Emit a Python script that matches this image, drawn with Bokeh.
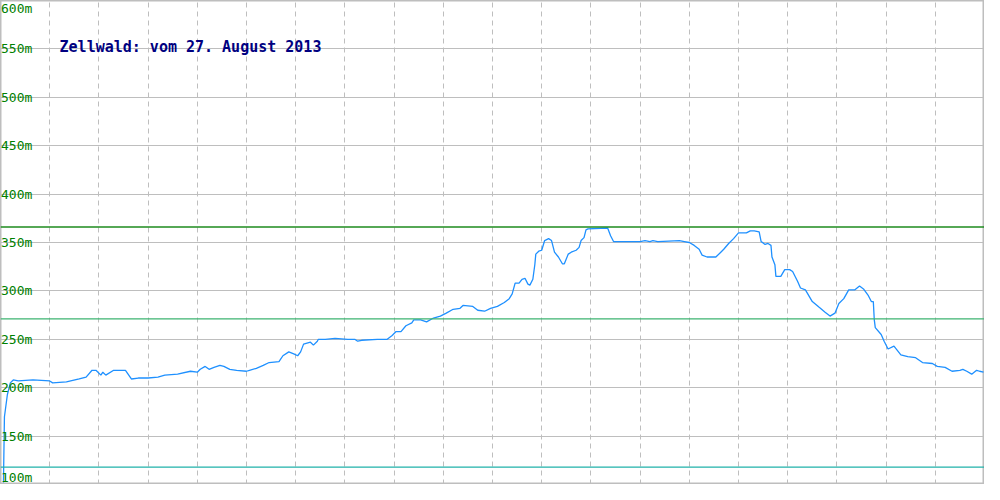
from bokeh.plotting import figure
from bokeh.models import Span, Grid, FixedTicker
from bokeh.core.properties import value
from bokeh.embed import file_html
from bokeh.resources import INLINE

title_text = "Zellwald: vom 27. August 2013"

dist = [3, 4, 7, 10, 13, 18, 33, 50, 53, 67, 80, 87, 93, 97, 102, 104, 107, 115, 127, 133,
        140, 150, 160, 167, 180, 193, 200, 203, 208, 212, 217, 223, 227, 233, 240, 250, 253, 260, 267, 273,
        283, 287, 293, 298, 302, 305, 308, 315, 318, 322, 323, 330, 340, 353, 360, 363, 367, 383, 393, 398,
        402, 407, 412, 418, 420, 427, 433, 440, 447, 453, 460, 467, 470, 480, 485, 492, 498, 505, 512, 517,
        520, 523, 527, 530, 533, 536, 538, 541, 543, 544, 547, 550, 553, 557, 560, 563, 567, 571, 573, 577,
        580, 585, 588, 590, 593, 595, 597, 617, 620, 623, 650, 655, 660, 663, 668, 690, 695, 700, 705, 710,
        713, 718, 727, 732, 735, 740, 745, 750, 758, 762, 766, 771, 773, 777, 780, 783, 784, 787, 788, 793,
        797, 802, 805, 810, 813, 818, 825, 832, 838, 843, 848, 852, 857, 862, 868, 873, 877, 882, 885, 887,
        888, 889, 895, 898, 902, 908, 915, 922, 930, 937, 947, 952, 960, 967, 975, 978, 982, 987, 992, 995, 999]

elev = [102, 170, 193, 205, 208, 207, 208, 207, 205, 206, 209, 211, 218, 218, 213, 216, 213, 218, 218, 209,
        210, 210, 211, 213, 214, 217, 216, 219, 222, 219, 221, 223, 222, 219, 218, 217, 218, 220, 223, 226,
        227, 233, 237, 235, 233, 237, 245, 247, 244, 248, 250, 250, 251, 250, 250, 248, 249, 250, 250, 254,
        258, 258, 264, 267, 270, 270, 268, 272, 274, 277, 281, 282, 285, 284, 280, 279, 282, 284, 288, 292,
        297, 308, 308, 312, 313, 307, 306, 312, 327, 338, 341, 342, 352, 354, 352, 340, 335, 328, 328, 338,
        340, 342, 345, 352, 355, 363, 364, 365, 357, 351, 351, 352, 351, 352, 351, 352, 351, 350, 347, 343,
        337, 335, 335, 340, 343, 349, 354, 360, 360, 362, 362, 361, 351, 348, 349, 347, 335, 327, 315, 315,
        322, 322, 320, 310, 303, 301, 289, 283, 278, 274, 277, 287, 292, 301, 301, 305, 302, 295, 289, 289,
        270, 262, 255, 248, 240, 243, 234, 232, 231, 226, 225, 222, 221, 217, 218, 219, 217, 214, 218, 217, 216]

ref_levels = [366, 271, 118]
ref_colors = ["#1E8B1E", "#3CB371", "#20B2AA"]

y_ticks = [100, 150, 200, 250, 300, 350, 400, 450, 500, 550, 600]
y_labels = ["100m", "150m", "200m", "250m", "300m", "350m", "400m", "450m", "500m", "550m", "600m"]
x_ticks = list(range(50, 1000, 50))

p = figure(width=984, height=484, x_range=(0, 1000), y_range=(100, 600),
           x_axis_location=None, y_axis_location=None,
           toolbar_location=None, output_backend="svg",
           min_border=0, min_border_left=0, min_border_right=0,
           min_border_top=0, min_border_bottom=0)
p.background_fill_color = "white"
p.border_fill_color = "white"
p.outline_line_color = "#BEBEBE"
p.outline_line_width = 2

p.center = [c for c in p.center if not isinstance(c, Grid)]
vg = Grid(dimension=0, ticker=FixedTicker(ticks=x_ticks),
          grid_line_color="#BEBEBE", grid_line_dash="5 4", grid_line_width=1)
hg = Grid(dimension=1, ticker=FixedTicker(ticks=y_ticks),
          grid_line_color="#BEBEBE", grid_line_width=1)
p.add_layout(vg, "center")
p.add_layout(hg, "center")

for lvl, col in zip(ref_levels, ref_colors):
    p.add_layout(Span(location=lvl, dimension="width", line_color=col, line_width=1.3))

p.line(dist, elev, line_color="#1E90FF", line_width=1.3)

mid_ticks = y_ticks[1:-1]
mid_labels = y_labels[1:-1]
common = dict(text_color="#008000", text_font_size="13px", text_align="left",
              text_font=value("DejaVu Sans Mono"))
p.text(x=[0.5] * len(mid_ticks), y=mid_ticks, text=mid_labels, text_baseline="middle", **common)
p.text(x=[0.5], y=[y_ticks[-1]], text=[y_labels[-1]], text_baseline="top", **common)
p.text(x=[0.5], y=[y_ticks[0]], text=[y_labels[0]], text_baseline="bottom", **common)

p.text(x=[60], y=[552], text=[title_text], text_color="#000080",
       text_font=value("DejaVu Sans Mono"), text_font_size="15px", text_font_style="bold",
       text_baseline="middle", text_align="left")

open("out.html", "w").write(file_html(p, INLINE))
